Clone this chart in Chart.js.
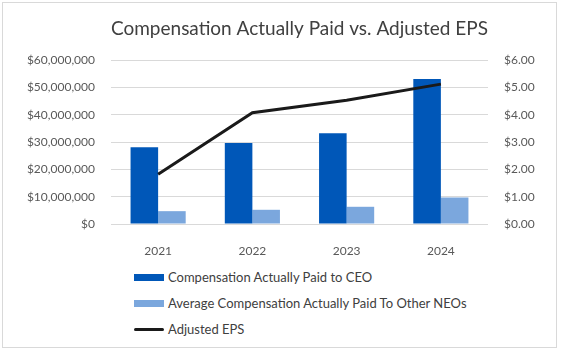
<!DOCTYPE html>
<html>
<head>
<meta charset="utf-8">
<script src="https://cdn.jsdelivr.net/npm/chart.js@4.4.0/dist/chart.umd.min.js"></script>
<style>
  html, body { margin: 0; padding: 0; background: #fff; }
  #frame {
    position: absolute; left: 2px; top: 2px; width: 553px; height: 344px;
    border: 1px solid #d9d9d9; background: #fff;
  }
  #chartBox { position: absolute; left: 0; top: 0; width: 553px; height: 260px; }
  #legend {
    position: absolute; left: 131px; top: 261px;
    font-family: Lato, sans-serif; font-size: 13px; color: #404040;
  }
  .item { display: flex; align-items: center; height: 26px; }
  .swatch { width: 30px; margin-right: 4px; }
</style>
</head>
<body>
<div id="frame">
  <div id="chartBox"><canvas id="payChart"></canvas></div>
  <div id="legend"></div>
</div>
<script>
// Data
const years = ['2021', '2022', '2023', '2024'];
const ceoPay = [28100000, 29600000, 33200000, 53100000];
const neoPay = [4700000, 5200000, 6300000, 9700000];
const adjEps = [1.82, 4.07, 4.53, 5.12];

const tickFont = { family: 'Lato, sans-serif', size: 12 };
const gray = '#595959';

const ctx = document.getElementById('payChart').getContext('2d');
const payChart = new Chart(ctx, {
    data: {
        labels: years,
        datasets: [
            {
                type: 'line',
                label: 'Adjusted EPS',
                data: adjEps,
                yAxisID: 'eps',
                borderColor: '#1a1a1a',
                backgroundColor: '#1a1a1a',
                borderWidth: 3,
                pointRadius: 0,
                tension: 0,
                order: 0
            },
            {
                type: 'bar',
                label: 'Compensation Actually Paid to CEO',
                data: ceoPay,
                yAxisID: 'pay',
                backgroundColor: '#0057b8',
                barPercentage: 1,
                categoryPercentage: 0.585,
                order: 1
            },
            {
                type: 'bar',
                label: 'Average Compensation Actually Paid To Other NEOs',
                data: neoPay,
                yAxisID: 'pay',
                backgroundColor: '#7ba7dd',
                barPercentage: 1,
                categoryPercentage: 0.585,
                order: 2
            }
        ]
    },
    options: {
        responsive: true,
        maintainAspectRatio: false,
        animation: false,
        layout: { padding: 0 },
        plugins: {
            legend: { display: false },
            tooltip: { enabled: false },
            title: {
                display: true,
                fullSize: false, // centre over the plot area, like the original
                text: 'Compensation Actually Paid vs. Adjusted EPS',
                color: '#404040',
                font: { family: 'Lato, sans-serif', size: 19.8, weight: 'normal' },
                padding: { top: 14, bottom: 19.3 }
            }
        },
        scales: {
            x: {
                grid: { display: false },
                border: { display: false },
                ticks: { color: gray, font: tickFont, padding: 12 },
                afterFit: s => { s.height = 39; }
            },
            pay: {
                position: 'left',
                min: 0,
                max: 60000000,
                grid: { color: '#d9d9d9', drawTicks: false },
                border: { display: false },
                ticks: {
                    stepSize: 10000000,
                    color: gray,
                    font: tickFont,
                    padding: 16,
                    callback: v => '$' + v.toLocaleString('en-US')
                },
                afterFit: s => { s.width = 108; }
            },
            eps: {
                position: 'right',
                min: 0,
                max: 6,
                grid: { display: false, drawTicks: false },
                border: { display: false },
                ticks: {
                    stepSize: 1,
                    color: gray,
                    font: tickFont,
                    padding: 16,
                    callback: v => '$' + v.toFixed(2)
                },
                afterFit: s => { s.width = 68; }
            }
        }
    }
});

// Legend in the reference's vertical order
const legendOrder = [1, 2, 0];
const legendBox = document.getElementById('legend');
legendOrder.forEach(i => {
    const ds = payChart.data.datasets[i];
    const row = document.createElement('div');
    row.className = 'item';
    const sw = document.createElement('span');
    sw.className = 'swatch';
    sw.style.height = ds.type === 'line' ? '3px' : '7px';
    sw.style.background = ds.type === 'line' ? ds.borderColor : ds.backgroundColor;
    if (ds.type === 'line') sw.style.borderRadius = '2px';
    const txt = document.createElement('span');
    txt.textContent = ds.label;
    row.appendChild(sw);
    row.appendChild(txt);
    legendBox.appendChild(row);
});
</script>
</body>
</html>
